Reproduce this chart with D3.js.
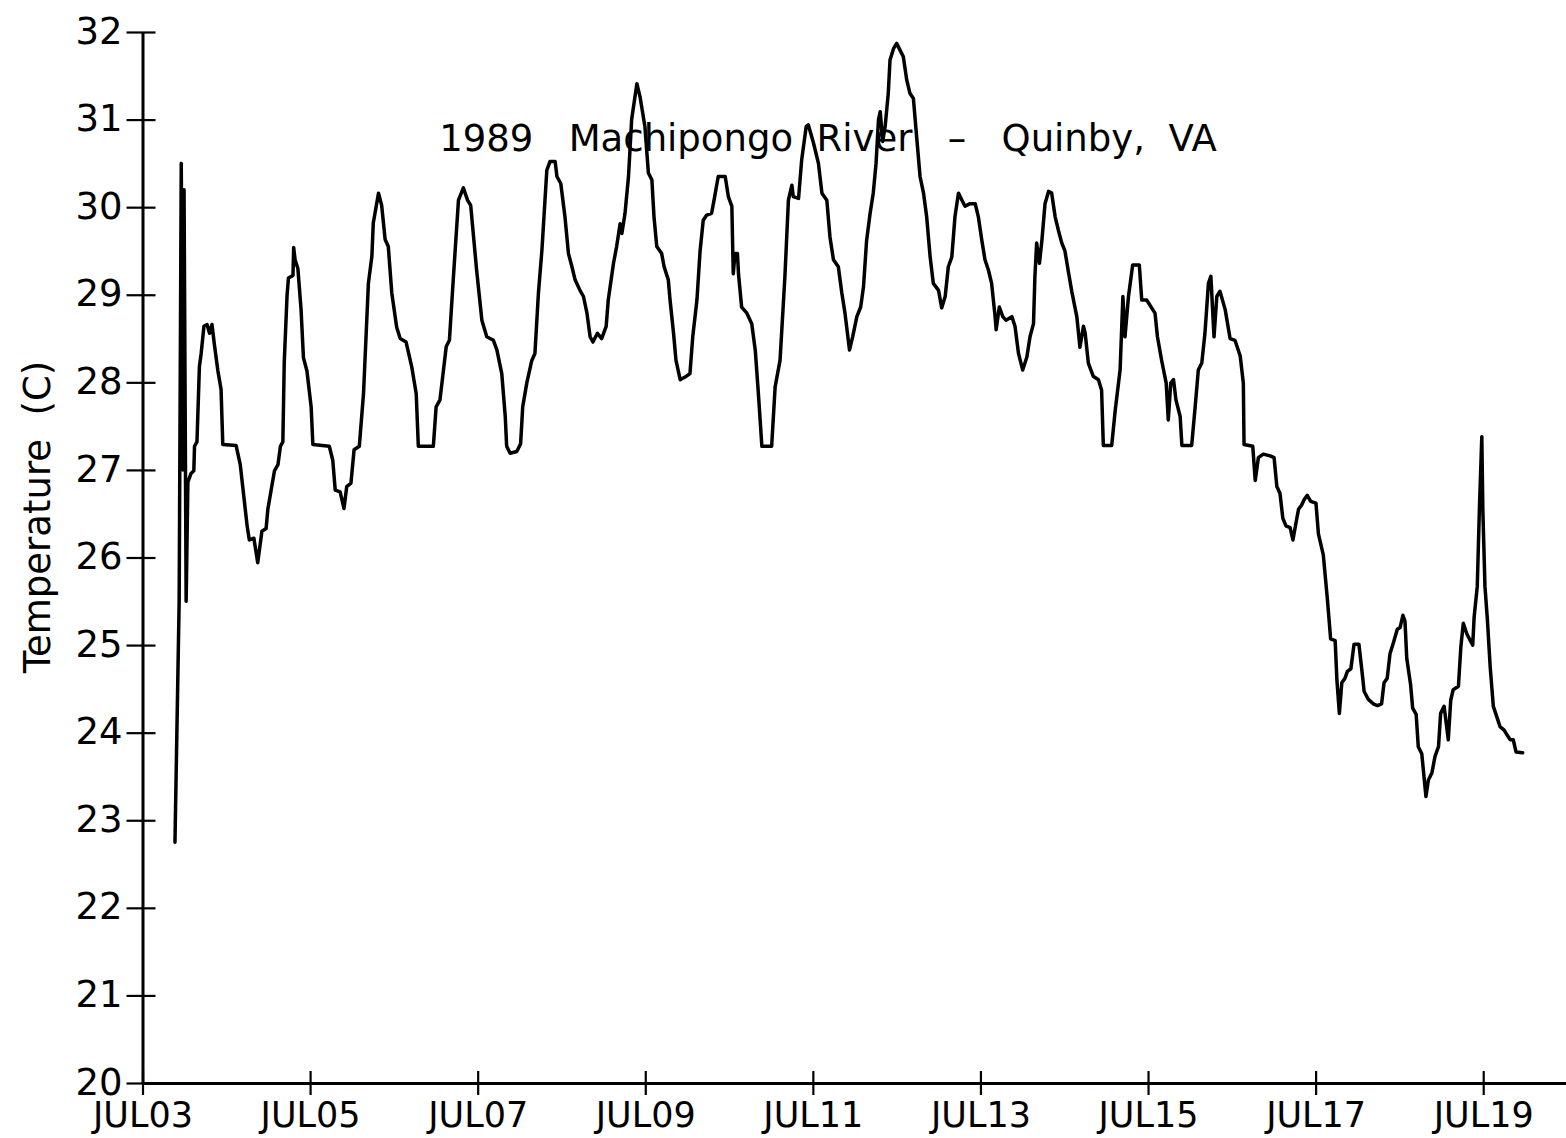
<!DOCTYPE html>
<html>
<head>
<meta charset="utf-8">
<script src="https://cdn.jsdelivr.net/npm/d3@7"></script>
<style>
  html, body { margin: 0; padding: 0; background: #fff; }
  svg { display: block; }
  text { font-family: "DejaVu Sans", sans-serif; fill: #000; }
</style>
</head>
<body>
<svg id="chart" width="1566" height="1138"></svg>
<script>
// Water temperature readings: [hours after 00:00 Jul 3 1989, degrees C]
const readingsJul03to06 = [
  [9.3,22.75],[10.5,25.5],[11.1,30.5],[11.6,27.0],[11.9,30.2],[12.5,25.5],[13.0,26.86],[13.9,26.96],
  [14.7,26.99],[14.9,27.27],[15.6,27.32],[16.3,28.18],[16.8,28.33],[17.6,28.64],[18.5,28.66],[19.2,28.56],
  [19.9,28.66],[20.6,28.43],[21.6,28.13],[22.5,27.92],[23.0,27.29],[26.8,27.28],[28.0,27.06],[28.7,26.81],
  [30.0,26.35],[30.6,26.2],[31.9,26.22],[33.0,25.94],[34.2,26.3],[35.4,26.33],[35.9,26.55],[36.8,26.76],
  [37.8,26.99],[38.8,27.06],[39.5,27.27],[40.2,27.32],[40.6,28.23],[41.4,28.99],[41.8,29.19],[43.1,29.22],
  [43.3,29.54],[43.7,29.4],[44.5,29.3],[45.4,28.84],[46.1,28.28],[47.1,28.13],[48.3,27.72],[48.8,27.29],
  [53.5,27.27],[54.5,27.11],[55.2,26.77],[56.6,26.75],[57.7,26.56],[58.5,26.81],[59.7,26.85],[60.6,27.23],
  [62.1,27.27],[63.3,27.87],[64.7,29.13],[65.7,29.44],[66.1,29.82],[67.6,30.16],[68.5,30.02],[69.5,29.63],
  [70.4,29.55],[71.4,29.02],[72.8,28.63],[73.8,28.5],[75.5,28.46],[77.1,28.18],[78.4,27.87],[79.0,27.27],
  [83.3,27.27],[84.1,27.72],[85.2,27.8],[87.0,28.41],[87.9,28.48],[89.0,29.17],[90.5,30.08],[91.9,30.22]
];
const readingsJul07to10 = [
  [93.1,30.08],[94.0,30.02],[95.7,29.28],[97.2,28.71],[98.6,28.52],[100.5,28.48],[101.5,28.37],[102.9,28.1],
  [103.9,27.61],[104.3,27.27],[105.3,27.19],[107.2,27.21],[108.3,27.3],[108.9,27.72],[110.1,28.0],[111.5,28.25],
  [112.4,28.33],[113.4,29.02],[114.4,29.51],[115.8,30.42],[116.7,30.52],[118.2,30.52],[118.7,30.35],[119.8,30.27],
  [121.0,29.89],[122.0,29.47],[123.0,29.32],[123.9,29.17],[125.3,29.05],[126.3,28.98],[127.3,28.79],[128.2,28.52],
  [129.0,28.46],[130.3,28.56],[131.5,28.5],[132.8,28.64],[133.4,28.94],[134.9,29.36],[135.8,29.55],[136.8,29.81],
  [137.3,29.7],[138.2,29.93],[139.2,30.35],[140.1,31.0],[141.6,31.41],[142.5,31.26],[143.9,30.92],[144.9,30.39],
  [145.9,30.31],[146.5,29.89],[147.3,29.55],[148.7,29.47],[149.4,29.32],[150.6,29.17],[151.1,28.94],[152.1,28.56],
  [152.8,28.25],[154.0,28.03],[155.4,28.06],[156.8,28.1],[157.6,28.52],[158.8,28.94],[159.7,29.5],[160.6,29.85],
  [161.6,29.91],[163.0,29.93],[163.7,30.08],[164.9,30.35],[166.9,30.35],[167.8,30.12],[168.8,30.01],[169.2,29.24],
  [169.7,29.47],[170.4,29.47],[170.7,29.24],[171.6,28.86],[173.1,28.79],[174.5,28.67],[175.5,28.37],[176.4,27.87],
  [177.4,27.27],[180.2,27.27],[181.2,27.95],[182.6,28.25],[184.0,29.21],[185.0,30.08],[186.0,30.25],[186.4,30.12]
];
const readingsJul11to14 = [
  [187.9,30.1],[188.8,30.54],[190.1,30.92],[190.7,30.94],[192.2,30.73],[193.6,30.5],[194.6,30.16],[196.0,30.08],
  [196.9,29.66],[197.9,29.4],[199.3,29.32],[200.3,29.02],[201.2,28.79],[202.5,28.37],[203.4,28.52],[204.6,28.75],
  [205.7,28.86],[206.5,29.09],[207.4,29.62],[208.4,29.93],[209.3,30.16],[210.1,30.5],[210.8,31.0],[211.3,31.09],
  [212.0,30.75],[212.7,30.92],[213.6,31.3],[214.1,31.68],[215.1,31.81],[216.0,31.87],[217.0,31.79],[217.9,31.72],
  [218.9,31.45],[219.8,31.3],[220.8,31.24],[221.8,30.77],[222.7,30.35],[223.7,30.16],[224.6,29.89],[225.6,29.43],
  [226.5,29.13],[228.0,29.05],[228.9,28.85],[229.9,28.98],[230.8,29.32],[231.8,29.43],[232.7,29.89],[233.7,30.16],
  [234.7,30.08],[235.6,30.01],[237.0,30.04],[238.5,30.04],[239.4,29.89],[240.4,29.62],[241.3,29.4],[242.3,29.28],
  [243.2,29.13],[244.2,28.75],[244.5,28.6],[245.4,28.86],[246.4,28.75],[247.3,28.71],[249.0,28.75],[249.9,28.64],
  [250.9,28.33],[252.1,28.14],[253.3,28.29],[254.2,28.52],[255.2,28.67],[255.6,29.21],[256.1,29.59],[256.9,29.36],
  [257.6,29.62],[258.5,30.04],[259.5,30.18],[260.4,30.16],[261.4,29.89],[262.3,29.74],[263.3,29.59],[264.2,29.5],
  [265.2,29.26],[266.2,29.03],[267.6,28.75],[268.5,28.4],[269.5,28.64],[270.0,28.56],[270.9,28.22],[272.3,28.07],
  [273.8,28.03],[274.7,27.91],[275.2,27.28],[277.6,27.28],[278.6,27.68],[280.0,28.14]
];
const readingsJul15to19 = [
  [280.8,28.98],[281.4,28.52],[282.4,28.98],[283.6,29.34],[285.5,29.34],[286.2,28.94],[287.6,28.94],[290.0,28.79],
  [290.7,28.52],[291.9,28.25],[293.2,27.99],[293.8,27.57],[294.5,27.99],[295.3,28.03],[296.0,27.8],[297.2,27.61],
  [297.7,27.28],[300.5,27.28],[301.5,27.72],[302.4,28.14],[303.4,28.22],[304.3,28.56],[305.3,29.13],[306.0,29.21],
  [306.9,28.52],[307.7,28.98],[308.6,29.04],[310.1,28.83],[311.5,28.5],[312.9,28.48],[314.4,28.3],[315.3,27.99],
  [315.5,27.29],[318.0,27.27],[318.7,26.88],[319.6,27.14],[321.0,27.18],[323.0,27.16],[324.1,27.14],[324.9,26.81],
  [325.8,26.73],[326.6,26.45],[327.5,26.36],[328.7,26.34],[329.5,26.2],[330.4,26.4],[331.1,26.55],[332.0,26.6],
  [332.7,26.66],[333.6,26.71],[334.6,26.64],[336.1,26.62],[336.8,26.27],[338.2,26.03],[339.4,25.51],[340.3,25.07],
  [341.6,25.05],[342.1,24.6],[342.8,24.22],[343.5,24.57],[344.4,24.62],[345.1,24.7],[346.1,24.73],[347.0,25.01],
  [348.4,25.01],[349.2,24.73],[349.9,24.47],[351.1,24.38],[352.5,24.33],[353.7,24.31],[354.9,24.33],[355.6,24.57],
  [356.5,24.62],[357.3,24.9],[358.3,25.03],[359.4,25.18],[360.2,25.2],[361.0,25.34],[361.6,25.27],[362.1,24.85],
  [363.2,24.55],[363.8,24.28],[364.8,24.21],[365.4,23.84],[366.4,23.76],[367.6,23.27],[368.3,23.46],[369.3,23.54],
  [370.2,23.73],[371.2,23.84],[371.8,24.22],[372.8,24.3],[374.0,23.92],[374.7,24.37],[375.4,24.49],[376.9,24.53],
  [377.6,24.98],[378.3,25.25],[379.3,25.13],[380.2,25.06],[381.0,25.0],[381.4,25.32],[382.3,25.67],[382.9,26.54],
  [383.6,27.38],[383.9,26.54],[384.5,25.67],[385.2,25.29],[386.0,24.75],[386.9,24.3],[387.9,24.18],[388.8,24.07],
  [390.0,24.03],[390.9,23.97],[391.7,23.92],[392.6,23.92],[393.4,23.78],[395.3,23.77]
];

const yTickValues = [20, 21, 22, 23, 24, 25, 26, 27, 28, 29, 30, 31, 32];
const xStartDate = Date.UTC(1989, 6, 3);
const xEndDate = Date.UTC(1989, 6, 20);
const titleText = "1989   Machipongo  River   \u2013   Quinby,  VA";
const yLabelText = "Temperature  (C)";

const readings = [].concat(readingsJul03to06, readingsJul07to10, readingsJul11to14, readingsJul15to19)
  .map(([h, t]) => ({ date: new Date(xStartDate + h * 3600000), temp: t }));

const svg = d3.select("#chart");

const x = d3.scaleUtc()
  .domain([new Date(xStartDate), new Date(xEndDate)])
  .range([142.5, 1567]);

const y = d3.scaleLinear()
  .domain([20, 32])
  .range([1083, 32]);

const fmtDay = d3.utcFormat("%b%d");

// X axis: ticks every second day, crossing the axis line
const xAxisG = svg.append("g")
  .attr("transform", `translate(0,${y(20)})`)
  .call(d3.axisBottom(x)
    .tickValues(d3.utcDay.range(new Date(xStartDate), new Date(xEndDate), 2))
    .tickFormat(d => fmtDay(d).toUpperCase())
    .tickSizeOuter(0)
    .tickSizeInner(10)
    .tickPadding(18));
xAxisG.select(".domain").attr("stroke", "#000").attr("stroke-width", 3);
xAxisG.selectAll(".tick line").attr("y1", -12).attr("y2", 12).attr("stroke-width", 2.2);
xAxisG.selectAll(".tick text")
  .attr("font-size", 35)
  .attr("font-family", "DejaVu Sans")
  .attr("dy", "0.71em")
  .attr("y", 19);

// Y axis with crossing ticks
const yAxisG = svg.append("g")
  .attr("transform", `translate(${x(new Date(xStartDate))},0)`)
  .call(d3.axisLeft(y)
    .tickValues(yTickValues)
    .tickFormat(d3.format("d"))
    .tickSizeOuter(0)
    .tickSizeInner(15)
    .tickPadding(5));
yAxisG.select(".domain").attr("stroke", "#000").attr("stroke-width", 3);
yAxisG.selectAll(".tick line").attr("x1", -16).attr("x2", 13).attr("stroke-width", 2.2);
yAxisG.selectAll(".tick text")
  .attr("font-size", 37)
  .attr("font-family", "DejaVu Sans")
  .attr("dy", "0.3em");

// Temperature trace
const line = d3.line()
  .x(d => x(d.date))
  .y(d => y(d.temp));

svg.append("path")
  .datum(readings)
  .attr("fill", "none")
  .attr("stroke", "#000")
  .attr("stroke-width", 3.5)
  .attr("stroke-linejoin", "round")
  .attr("stroke-linecap", "round")
  .attr("d", line);

// Title
svg.append("text")
  .attr("x", 828)
  .attr("y", 151)
  .attr("text-anchor", "middle")
  .attr("font-size", 37)
  .style("white-space", "pre")
  .text(titleText);

// Y axis label
svg.append("text")
  .attr("transform", "translate(50,517) rotate(-90)")
  .attr("text-anchor", "middle")
  .attr("font-size", 37)
  .style("white-space", "pre")
  .text(yLabelText);
</script>
</body>
</html>
